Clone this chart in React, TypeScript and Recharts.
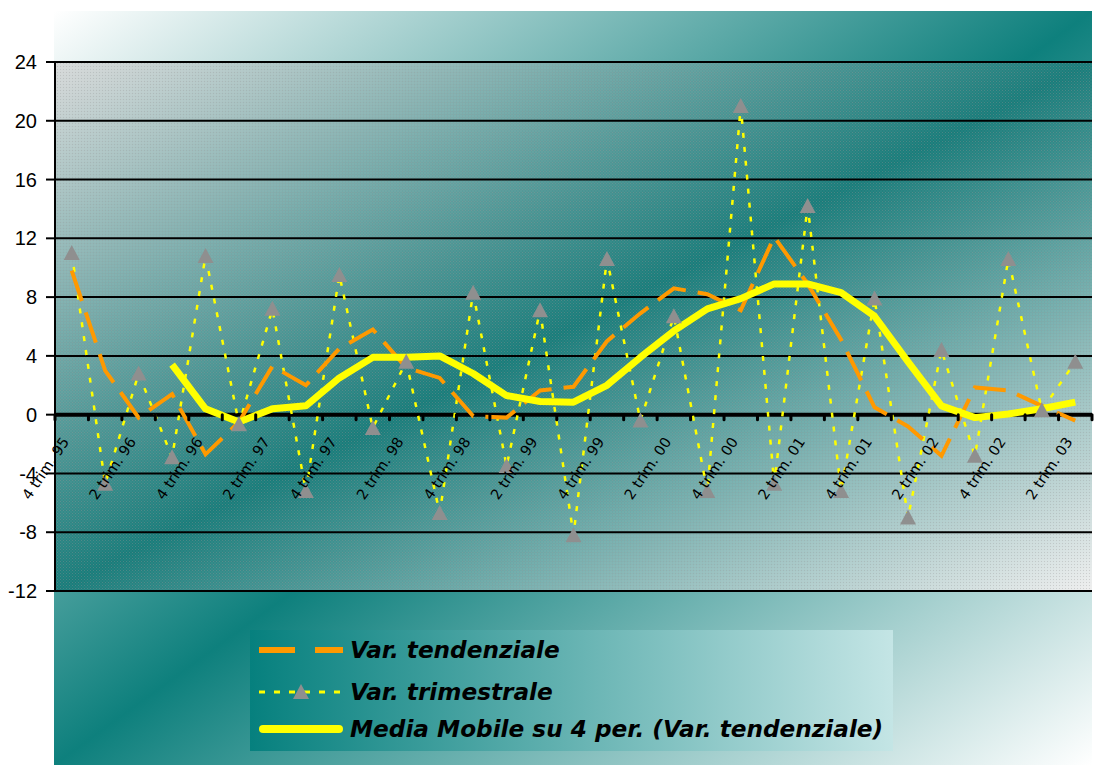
import { LineChart, Line, XAxis, YAxis, CartesianGrid, ReferenceLine, Legend } from 'recharts';

const quarters = [
  '4 trim. 95',
  '1 trim. 96', '2 trim. 96', '3 trim. 96', '4 trim. 96',
  '1 trim. 97', '2 trim. 97', '3 trim. 97', '4 trim. 97',
  '1 trim. 98', '2 trim. 98', '3 trim. 98', '4 trim. 98',
  '1 trim. 99', '2 trim. 99', '3 trim. 99', '4 trim. 99',
  '1 trim. 00', '2 trim. 00', '3 trim. 00', '4 trim. 00',
  '1 trim. 01', '2 trim. 01', '3 trim. 01', '4 trim. 01',
  '1 trim. 02', '2 trim. 02', '3 trim. 02', '4 trim. 02',
  '1 trim. 03', '2 trim. 03',
];

const varTendenziale = [
  9.8, 3.0, -0.2, 1.4, -2.7, -0.5, 3.3, 2.0, 4.5, 5.8, 3.2, 2.5, -0.1, -0.2, 1.65, 1.9,
  5.0, 6.9, 8.6, 8.2, 7.1, 12.1, 8.9, 5.1, 0.5, -0.8, -2.8, 1.85, 1.65, 0.6, -0.4,
];

const varTrimestrale = [
  11.0, -4.7, 2.8, -2.9, 10.8, -0.65, 7.2, -5.2, 9.5, -0.9, 3.6, -6.7, 8.3, -3.5, 7.1, -8.2,
  10.6, -0.4, 6.7, -5.2, 21.0, -4.7, 14.2, -5.2, 7.9, -7.0, 4.4, -2.8, 10.6, 0.3, 3.6,
];

const mediaMobile = [
  null, null, null, 3.4, 0.4, -0.5, 0.4, 0.6, 2.5, 3.9, 3.9, 4.0, 2.8, 1.3, 0.9, 0.85,
  2.0, 3.9, 5.7, 7.2, 7.9, 8.9, 8.9, 8.3, 6.7, 3.6, 0.6, -0.2, 0.05, 0.4, 0.85,
];

const yTicks = [-12, -8, -4, 0, 4, 8, 12, 16, 20, 24];
const Y_MIN = -12;
const Y_MAX = 24;

const seriesNames = {
  tend: 'Var. tendenziale',
  trim: 'Var. trimestrale',
  media: 'Media Mobile su 4 per. (Var. tendenziale)',
};

const data = quarters.map((q, i) => ({
  q,
  tend: varTendenziale[i],
  trim: varTrimestrale[i],
  media: mediaMobile[i],
}));

const W = 1096;
const H = 765;
const MARGIN = { top: 62, right: 4, bottom: 173, left: 0 };
const Y_AXIS_W = 55;
const X_AXIS_H = 1;
const PLOT_W = W - MARGIN.left - MARGIN.right - Y_AXIS_W;
const PLOT_H = H - MARGIN.top - MARGIN.bottom - X_AXIS_H;
const BAND = PLOT_W / quarters.length;

const ORANGE = '#ff9900';
const YELLOW = '#ffff00';
const GRAY = '#8f8f8f';

// x axis sits on the zero line, ticks between categories, label every 2nd quarter
function QuarterTick({ x, y, index, payload }: any) {
  const zeroY = y - (PLOT_H * (0 - Y_MIN)) / (Y_MAX - Y_MIN);
  const left = x - BAND / 2;
  const ly = zeroY + 27;
  return (
    <g>
      <line x1={left} x2={left} y1={zeroY} y2={zeroY + 5} stroke="#000" strokeWidth={3} strokeLinecap="round" />
      {index === quarters.length - 1 && (
        <line x1={x + BAND / 2} x2={x + BAND / 2} y1={zeroY} y2={zeroY + 5} stroke="#000" strokeWidth={3} strokeLinecap="round" />
      )}
      {index % 2 === 0 && (
        <text
          x={x - 2}
          y={ly}
          transform={`rotate(-56 ${x - 2} ${ly})`}
          textAnchor="end"
          fontFamily="DejaVu Sans"
          fontSize={14.5}
          fill="#000"
        >
          {payload.value}
        </text>
      )}
    </g>
  );
}

function Triangle({ cx, cy, index }: any) {
  if (cx == null || cy == null) return null;
  return (
    <polygon
      key={`tri-${index}`}
      points={`${cx},${cy - 8} ${cx + 8},${cy + 7} ${cx - 8},${cy + 7}`}
      fill={GRAY}
    />
  );
}

function LegendBox() {
  const rowY = [20, 62, 99];
  const textX = 100;
  return (
    <div style={{ width: 643, height: 121, background: 'linear-gradient(to right, #06807e, #c4e5e5)' }}>
      <svg width={643} height={121}>
        <line x1={9} x2={93} y1={rowY[0]} y2={rowY[0]} stroke={ORANGE} strokeWidth={6} strokeDasharray="36 20" />
        <line x1={9} x2={93} y1={rowY[1]} y2={rowY[1]} stroke={YELLOW} strokeWidth={3} strokeDasharray="6 9" />
        <polygon points={`51,${rowY[1] - 8} 59,${rowY[1] + 7} 43,${rowY[1] + 7}`} fill={GRAY} />
        <line x1={13} x2={89} y1={rowY[2]} y2={rowY[2]} stroke={YELLOW} strokeWidth={8} strokeLinecap="round" />
        {[seriesNames.tend, seriesNames.trim, seriesNames.media].map((name, i) => (
          <text
            key={name}
            x={textX}
            y={rowY[i] + 8}
            fontFamily="DejaVu Sans"
            fontStyle="italic"
            fontWeight="bold"
            fontSize={23.2}
            fill="#000"
          >
            {name}
          </text>
        ))}
      </svg>
    </div>
  );
}

export default function App() {
  return (
    <div style={{ position: 'absolute', left: 0, top: 0, width: W, height: H, background: '#fff', overflow: 'hidden' }}>
      <div
        style={{
          position: 'absolute',
          left: 54,
          top: 11,
          width: 1038,
          height: 754,
          background: 'linear-gradient(to bottom right, #ffffff 0%, #0e807d 50%, #ffffff 100%)',
        }}
      />
      <div style={{ position: 'absolute', left: 0, top: 0 }}>
        <LineChart width={W} height={H} data={data} margin={MARGIN}>
          <defs>
            <linearGradient id="plotGrad" x1="0" y1="0" x2="1" y2="1">
              <stop offset="0%" stopColor="#d8dada" />
              <stop offset="50%" stopColor="#1a7c7a" />
              <stop offset="100%" stopColor="#eeeeee" />
            </linearGradient>
            <pattern id="dots" width="3" height="3" patternUnits="userSpaceOnUse">
              <rect x="0" y="0" width="1" height="1" fill="#9a9a9a" fillOpacity="0.35" />
              <rect x="1.5" y="1.5" width="1" height="1" fill="#ffffff" fillOpacity="0.12" />
            </pattern>
          </defs>
          <CartesianGrid horizontal={false} vertical={false} fill="url(#plotGrad)" />
          <CartesianGrid vertical={false} stroke="#000" strokeWidth={2} fill="url(#dots)" fillOpacity={1} />
          <XAxis
            dataKey="q"
            interval={0}
            height={X_AXIS_H}
            padding={{ left: BAND / 2, right: BAND / 2 }}
            axisLine={false}
            tickLine={false}
            tickSize={0}
            tickMargin={0}
            tick={(props: any) => <QuarterTick {...props} />}
          />
          <YAxis
            domain={[Y_MIN, Y_MAX]}
            ticks={yTicks}
            width={Y_AXIS_W}
            axisLine={{ stroke: '#000', strokeWidth: 2 }}
            tickLine={{ stroke: '#000', strokeWidth: 2 }}
            tickSize={9}
            tickMargin={9}
            tick={{ fill: '#000', fontSize: 20, fontFamily: 'Liberation Sans' }}
          />
          <ReferenceLine y={0} stroke="#000" strokeWidth={4} />
          <Line
            dataKey="trim"
            name={seriesNames.trim}
            stroke={YELLOW}
            strokeWidth={2.5}
            strokeDasharray="5 9"
            dot={(p: any) => <Triangle {...p} />}
            activeDot={false}
            isAnimationActive={false}
          />
          <Line
            dataKey="tend"
            name={seriesNames.tend}
            stroke={ORANGE}
            strokeWidth={4}
            strokeDasharray="32 12"
            dot={false}
            activeDot={false}
            isAnimationActive={false}
          />
          <Line
            dataKey="media"
            name={seriesNames.media}
            stroke={YELLOW}
            strokeWidth={7}
            strokeLinejoin="round"
            dot={false}
            activeDot={false}
            isAnimationActive={false}
          />
          <Legend
            layout="vertical"
            align="center"
            verticalAlign="middle"
            wrapperStyle={{ left: 250, top: 630, width: 643, height: 121 }}
            content={() => <LegendBox />}
          />
        </LineChart>
      </div>
    </div>
  );
}
